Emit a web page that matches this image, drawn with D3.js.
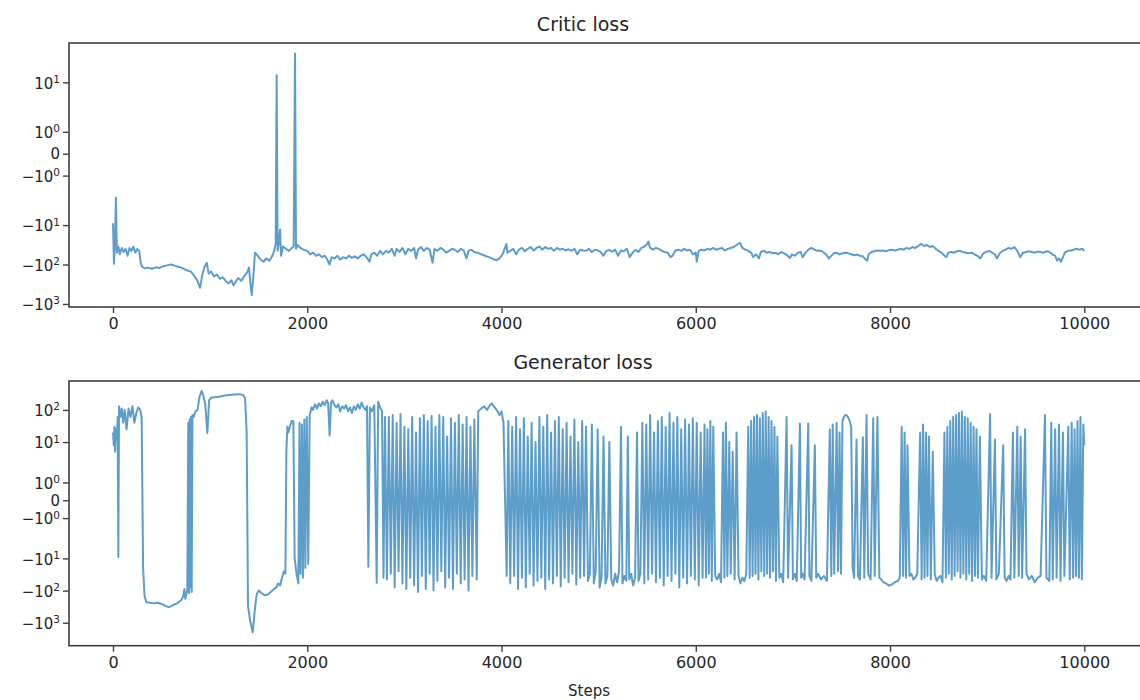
<!DOCTYPE html>
<html>
<head>
<meta charset="utf-8">
<script src="https://cdn.jsdelivr.net/npm/d3@7/dist/d3.min.js"></script>
<style>
  body { margin: 0; background: #fff; }
  text { font-family: "DejaVu Sans", sans-serif; fill: #262626; }
</style>
</head>
<body>
<svg id="chart" width="1140" height="700"></svg>
<script>
// step, loss pairs
var criticLoss = [
  [0,-9],[10,-95],[20,-30],[30,-2],[40,-50],[55,-35],[70,-55],[90,-38],[110,-48],[130,-40],
  [150,-60],[170,-38],[190,-45],[210,-35],[230,-50],[250,-40],[270,-45],[285,-90],[300,-115],[330,-125],
  [360,-120],[400,-128],[440,-118],[480,-122],[520,-110],[560,-105],[600,-100],[640,-108],[680,-115],[720,-125],
  [760,-140],[800,-150],[840,-200],[870,-260],[896,-390],[920,-180],[945,-110],[965,-90],[985,-170],[1010,-150],
  [1040,-200],[1070,-180],[1100,-230],[1130,-210],[1160,-260],[1190,-300],[1220,-250],[1240,-340],[1260,-280],[1290,-220],
  [1320,-260],[1350,-200],[1380,-160],[1400,-120],[1415,-300],[1428,-600],[1445,-200],[1462,-50],[1490,-60],[1520,-75],
  [1550,-85],[1580,-70],[1610,-80],[1640,-60],[1660,-45],[1675,-30],[1685,15],[1695,-45],[1710,-25],[1720,-13],
  [1730,-60],[1750,-35],[1780,-40],[1810,-45],[1840,-38],[1860,-35],[1874,54],[1884,-40],[1900,-32],[1930,-38],
  [1960,-42],[2000,-45],[2030,-55],[2060,-50],[2090,-60],[2120,-55],[2150,-65],[2180,-60],[2200,-70],[2230,-100],
  [2250,-65],[2280,-70],[2310,-60],[2340,-75],[2370,-65],[2400,-70],[2430,-60],[2460,-68],[2490,-62],[2520,-70],
  [2550,-60],[2580,-55],[2610,-65],[2640,-85],[2660,-55],[2690,-50],[2720,-60],[2750,-45],[2780,-55],[2810,-45],
  [2840,-50],[2870,-40],[2900,-60],[2920,-40],[2950,-48],[2980,-38],[3010,-55],[3040,-40],[3070,-45],[3100,-38],
  [3120,-70],[3140,-42],[3170,-36],[3200,-45],[3230,-38],[3260,-42],[3290,-90],[3310,-40],[3340,-45],[3370,-38],
  [3400,-42],[3430,-50],[3460,-45],[3490,-40],[3520,-42],[3550,-48],[3580,-40],[3610,-44],[3640,-70],[3660,-45],
  [3690,-42],[3720,-48],[3750,-50],[3790,-55],[3830,-60],[3870,-65],[3910,-72],[3950,-78],[3980,-70],[4010,-55],
  [4040,-35],[4050,-30],[4060,-50],[4090,-45],[4120,-40],[4150,-55],[4180,-42],[4210,-38],[4240,-46],[4270,-40],
  [4300,-36],[4330,-44],[4360,-38],[4390,-35],[4420,-42],[4450,-36],[4480,-40],[4510,-38],[4540,-45],[4570,-38],
  [4600,-42],[4630,-40],[4660,-44],[4690,-41],[4720,-45],[4750,-40],[4780,-55],[4810,-42],[4840,-44],[4870,-45],
  [4900,-40],[4930,-48],[4960,-42],[4990,-44],[5020,-48],[5050,-60],[5080,-45],[5110,-43],[5140,-47],[5170,-42],
  [5200,-60],[5230,-44],[5260,-46],[5290,-40],[5320,-65],[5350,-50],[5380,-42],[5410,-48],[5440,-38],[5470,-35],
  [5500,-30],[5512,-26],[5530,-38],[5560,-42],[5590,-38],[5620,-40],[5650,-45],[5680,-48],[5710,-50],[5740,-65],
  [5760,-60],[5790,-44],[5820,-42],[5850,-45],[5880,-40],[5910,-44],[5940,-42],[5970,-55],[6000,-50],[6010,-85],
  [6030,-45],[6060,-42],[6090,-44],[6120,-40],[6150,-42],[6180,-38],[6210,-42],[6240,-40],[6270,-38],[6300,-44],
  [6330,-40],[6360,-38],[6390,-36],[6420,-32],[6455,-28],[6480,-38],[6510,-42],[6540,-45],[6570,-50],[6590,-65],
  [6620,-55],[6650,-70],[6670,-48],[6700,-45],[6730,-50],[6760,-48],[6790,-52],[6820,-50],[6850,-55],[6880,-48],
  [6910,-52],[6940,-58],[6970,-68],[6990,-55],[7020,-60],[7050,-50],[7080,-48],[7100,-65],[7130,-50],[7160,-42],
  [7190,-38],[7220,-42],[7250,-45],[7280,-44],[7310,-48],[7340,-55],[7370,-70],[7390,-62],[7420,-52],[7450,-50],
  [7480,-55],[7510,-52],[7540,-50],[7570,-52],[7600,-55],[7630,-58],[7660,-56],[7690,-60],[7720,-62],[7750,-75],
  [7765,-80],[7780,-55],[7810,-48],[7840,-46],[7870,-44],[7900,-45],[7930,-44],[7960,-46],[7990,-43],[8020,-42],
  [8050,-44],[8080,-42],[8110,-40],[8140,-42],[8170,-38],[8200,-40],[8230,-36],[8260,-38],[8290,-34],[8320,-30],
  [8350,-34],[8380,-32],[8410,-36],[8440,-34],[8470,-40],[8500,-45],[8530,-50],[8560,-60],[8580,-65],[8600,-50],
  [8630,-48],[8660,-50],[8690,-46],[8720,-45],[8750,-48],[8780,-50],[8810,-52],[8840,-50],[8870,-55],[8900,-60],
  [8930,-70],[8960,-52],[8990,-48],[9020,-45],[9050,-50],[9080,-55],[9100,-70],[9130,-52],[9160,-45],[9190,-42],
  [9220,-38],[9250,-40],[9280,-36],[9310,-45],[9340,-65],[9370,-50],[9400,-48],[9430,-46],[9460,-48],[9490,-50],
  [9520,-47],[9550,-48],[9580,-50],[9610,-46],[9640,-48],[9670,-55],[9700,-60],[9720,-80],[9740,-70],[9760,-85],
  [9780,-65],[9800,-50],[9830,-45],[9860,-44],[9890,-42],[9920,-40],[9950,-42],[9980,-40],[10000,-45]
];

var generatorLoss = [
  [0,20],[8,8],[15,30],[22,5],[30,25],[40,12],[48,60],[55,-9],[62,130],[75,60],
  [90,110],[105,40],[120,100],[140,25],[160,110],[180,60],[200,130],[220,40],[240,80],[260,120],
  [280,100],[295,60],[310,-20],[325,-150],[345,-230],[380,-240],[420,-250],[460,-240],[500,-260],[540,-300],
  [580,-330],[620,-280],[660,-250],[700,-200],[720,-160],[735,-90],[745,-180],[755,-130],[765,-100],[775,40],
  [782,-120],[790,50],[797,-80],[803,60],[810,-110],[818,70],[830,60],[850,90],[870,100],[890,250],
  [913,390],[930,280],[950,150],[971,19],[990,200],[1010,240],[1050,250],[1100,260],[1150,280],[1200,290],
  [1250,300],[1300,310],[1340,290],[1360,230],[1376,20],[1390,-300],[1410,-800],[1438,-2000],[1460,-400],[1480,-130],
  [1500,-100],[1530,-120],[1560,-140],[1600,-130],[1640,-100],[1680,-80],[1700,-60],[1720,-70],[1740,-40],[1760,-25],
  [1775,-30],[1785,5],[1795,30],[1805,20],[1820,30],[1840,45],[1857,45],[1870,-10],[1890,-30],[1908,-60],
  [1920,40],[1930,-30],[1945,35],[1955,-40],[1970,50],[1980,-20],[1995,60],[2010,-15],[2025,70],[2045,120],
  [2060,100],[2080,150],[2100,110],[2120,160],[2140,130],[2160,180],[2180,140],[2200,200],[2215,160],[2230,16],
  [2245,170],[2260,200],[2280,140],[2300,120],[2320,150],[2340,90],[2360,130],[2380,110],[2400,140],[2420,90],
  [2440,120],[2460,80],[2480,130],[2500,100],[2520,150],[2540,110],[2560,170],[2580,120],[2600,100],[2615,130],
  [2629,-18],[2645,120],[2665,90],[2690,140],[2715,-57],[2730,180],[2750,120],[2770,90],[2785,-40],[2800,60],
  [2820,-45],[2840,60],[2860,-30],[2880,70],[2900,-80],[2920,40],[2940,-25],[2960,75],[2980,-60],[3000,30],
  [3020,-90],[3040,25],[3060,-40],[3080,60],[3100,-70],[3120,20],[3140,-110],[3160,55],[3180,-35],[3200,70],
  [3220,-90],[3240,45],[3260,-30],[3280,65],[3300,-100],[3320,30],[3340,-50],[3360,70],[3380,-25],[3400,60],
  [3420,-80],[3440,15],[3460,-40],[3480,55],[3500,-90],[3520,40],[3540,-30],[3560,70],[3580,-60],[3600,35],
  [3620,-45],[3640,60],[3660,-100],[3680,30],[3700,-35],[3720,50],[3745,-45],[3760,90],[3790,110],[3820,130],
  [3850,100],[3880,140],[3900,160],[3920,130],[3940,110],[3960,90],[3980,70],[4000,90],[4020,40],[4053,-35],
  [4070,45],[4090,-60],[4110,30],[4130,-35],[4150,60],[4170,-90],[4190,25],[4210,-40],[4230,55],[4250,-80],
  [4270,15],[4290,-30],[4310,40],[4330,-70],[4350,10],[4370,-50],[4390,60],[4410,-40],[4430,30],[4450,-90],
  [4470,70],[4490,-45],[4510,20],[4530,-60],[4550,45],[4570,-35],[4590,60],[4610,-75],[4630,25],[4650,-40],
  [4670,40],[4690,-55],[4710,15],[4730,-30],[4750,50],[4770,-65],[4790,10],[4810,-40],[4830,45],[4850,-35],
  [4870,30],[4890,-50],[4910,-30],[4930,35],[4950,-60],[4970,-25],[4990,25],[5010,-80],[5030,-40],[5050,15],
  [5070,-60],[5090,-35],[5110,10],[5130,-45],[5150,-70],[5170,-30],[5190,-55],[5210,-25],[5230,30],[5245,-60],
  [5265,-35],[5285,-50],[5300,15],[5315,-45],[5335,-30],[5355,-70],[5375,-40],[5395,20],[5410,-50],[5430,-30],
  [5450,40],[5470,-60],[5490,35],[5510,-45],[5530,70],[5550,-30],[5570,20],[5590,-55],[5610,45],[5630,-40],
  [5650,60],[5670,-70],[5690,30],[5710,-35],[5730,80],[5750,-50],[5770,40],[5790,-30],[5810,60],[5830,-80],
  [5850,25],[5870,-40],[5890,50],[5910,-60],[5930,35],[5950,-35],[5970,55],[5990,-45],[6010,40],[6030,-70],
  [6050,20],[6070,-40],[6090,35],[6105,-40],[6120,25],[6135,-30],[6150,45],[6165,-50],[6180,30],[6200,-35],
  [6220,-45],[6240,-30],[6260,-55],[6280,20],[6295,-40],[6310,40],[6325,-35],[6345,10],[6360,-30],[6380,5],
  [6400,-45],[6420,20],[6440,-35],[6460,-60],[6480,-40],[6500,-50],[6520,-30],[6540,30],[6555,-40],[6570,45],
  [6585,-35],[6600,60],[6615,-30],[6630,70],[6645,-45],[6660,55],[6675,-25],[6690,80],[6705,-35],[6720,90],
  [6735,-30],[6750,60],[6765,-40],[6780,45],[6795,-25],[6810,30],[6825,-50],[6840,15],[6860,-40],[6880,-30],
  [6900,-55],[6935,60],[6950,-40],[6986,8],[7000,-45],[7020,-30],[7040,-50],[7072,38],[7085,-40],[7100,-30],
  [7120,-45],[7158,38],[7170,-35],[7190,-50],[7226,8],[7240,-40],[7260,-30],[7290,-45],[7320,-35],[7350,-50],
  [7380,25],[7395,-35],[7410,35],[7425,-30],[7450,40],[7465,-25],[7480,20],[7495,-30],[7510,45],[7525,60],
  [7540,70],[7560,65],[7580,50],[7600,30],[7615,-20],[7630,-40],[7655,12],[7670,-35],[7690,-45],[7720,14],
  [7735,-40],[7758,70],[7775,-30],[7800,-45],[7827,55],[7842,-35],[7870,60],[7890,-40],[7910,-45],[7930,-55],
  [7960,-60],[7990,-70],[8020,-65],[8050,-55],[8080,-50],[8100,-40],[8120,30],[8135,-35],[8150,20],[8165,-40],
  [8180,8],[8200,-35],[8220,-30],[8240,-45],[8260,-40],[8280,-30],[8310,20],[8325,-45],[8340,35],[8355,-40],
  [8370,20],[8385,-35],[8400,15],[8420,-45],[8440,5],[8460,-30],[8480,-50],[8500,-40],[8520,-35],[8540,-55],
  [8560,20],[8575,-40],[8590,30],[8605,-30],[8620,45],[8635,-45],[8650,60],[8665,-35],[8680,70],[8695,-25],
  [8710,80],[8725,-40],[8740,90],[8755,-30],[8770,60],[8785,-45],[8800,55],[8815,-30],[8830,40],[8845,-50],
  [8860,30],[8875,-35],[8890,25],[8905,-40],[8925,15],[8945,-45],[8965,-35],[8990,-50],[9030,75],[9045,-40],
  [9080,12],[9095,-45],[9120,-30],[9165,8],[9180,-40],[9200,-50],[9220,-35],[9240,-45],[9265,20],[9280,-40],
  [9310,30],[9325,-35],[9345,15],[9360,-40],[9390,25],[9405,-30],[9430,-45],[9460,-35],[9490,-55],[9520,-40],
  [9550,-35],[9595,70],[9610,-40],[9640,-50],[9660,40],[9675,-45],[9700,25],[9715,-40],[9740,35],[9755,-50],
  [9780,20],[9795,-35],[9835,30],[9850,-45],[9870,40],[9885,-40],[9900,25],[9915,-35],[9930,45],[9945,-40],
  [9960,60],[9975,-45],[9990,35],[10000,8]
];

var stepTicks = [0, 2000, 4000, 6000, 8000, 10000];
var criticTicks = [10, 1, 0, -1, -10, -100, -1000];
var generatorTicks = [100, 10, 1, 0, -1, -10, -100, -1000];

// matplotlib symlog (linthresh = 2, linscale = 1)
var LINTHRESH = 2, LINSCALE = 1 / (1 - 1 / 10);
function symlog(v) {
  var a = Math.abs(v);
  if (a <= LINTHRESH) return v * LINSCALE;
  return Math.sign(v) * LINTHRESH * (LINSCALE + Math.log10(a / LINTHRESH));
}

var svg = d3.select("#chart");
var lineColor = "#1f77b4";
var frameLeft = 69, frameRight = 1146;

var x = d3.scaleLinear().domain([0, 10000]).range([113, 1084.3]);

function drawPanel(opts) {
  var y = d3.scaleLinear().domain(opts.tDomain).range([opts.bottom, opts.top]);
  var g = svg.append("g");

  var line = d3.line()
    .x(function(d) { return x(d[0]); })
    .y(function(d) { return y(symlog(d[1])); });

  g.append("path")
    .datum(opts.data)
    .attr("d", line)
    .attr("fill", "none")
    .attr("stroke", lineColor)
    .attr("stroke-opacity", 0.72)
    .attr("stroke-width", 2)
    .attr("stroke-linejoin", "round");

  // frame
  g.append("rect")
    .attr("x", frameLeft).attr("y", opts.top)
    .attr("width", frameRight - frameLeft).attr("height", opts.bottom - opts.top)
    .attr("fill", "none").attr("stroke", "#404040").attr("stroke-width", 1.6);

  var xAxis = g.append("g")
    .attr("transform", "translate(0," + opts.bottom + ")")
    .call(d3.axisBottom(x).tickValues(stepTicks).tickSize(6).tickPadding(5).tickFormat(d3.format("d")));
  xAxis.select(".domain").remove();
  xAxis.selectAll("line").attr("stroke", "#404040").attr("stroke-width", 1.4);
  xAxis.selectAll("text").attr("font-size", 16).attr("fill", "#262626")
    .style("font-family", "DejaVu Sans, sans-serif");

  var yAxis = g.append("g")
    .attr("transform", "translate(" + frameLeft + ",0)")
    .call(d3.axisLeft(y).tickValues(opts.ticks.map(symlog)).tickSize(6).tickPadding(4).tickFormat(""));
  yAxis.select(".domain").remove();
  yAxis.selectAll("line").attr("stroke", "#404040").attr("stroke-width", 1.4);
  yAxis.selectAll(".tick").each(function(t, i) {
    var v = opts.ticks[i];
    var txt = d3.select(this).select("text")
      .attr("font-size", 15).attr("fill", "#262626").attr("x", -9).attr("dy", "0.32em")
      .style("font-family", "DejaVu Sans, sans-serif");
    if (v === 0) {
      txt.text("0");
      return;
    }
    var e = Math.round(Math.log10(Math.abs(v)));
    txt.append("tspan").text((v < 0 ? "\u2212" : "") + "10").attr("dy", "0.38em");
    txt.append("tspan").text(e).attr("font-size", 10.5).attr("dy", "-0.55em");
    txt.attr("dy", null);
  });

  svg.append("text")
    .attr("x", 583).attr("y", opts.titleY)
    .attr("text-anchor", "middle")
    .attr("font-size", 19)
    .text(opts.title);
}

drawPanel({
  data: criticLoss, ticks: criticTicks, title: "Critic loss",
  top: 43, bottom: 307, tDomain: [-7.774, 5.614], titleY: 31
});

drawPanel({
  data: generatorLoss, ticks: generatorTicks, title: "Generator loss",
  top: 381, bottom: 645.7, tDomain: [-9.05, 7.42], titleY: 369
});

svg.append("text")
  .attr("x", 589).attr("y", 696)
  .attr("text-anchor", "middle")
  .attr("font-size", 15)
  .text("Steps");
</script>
</body>
</html>
